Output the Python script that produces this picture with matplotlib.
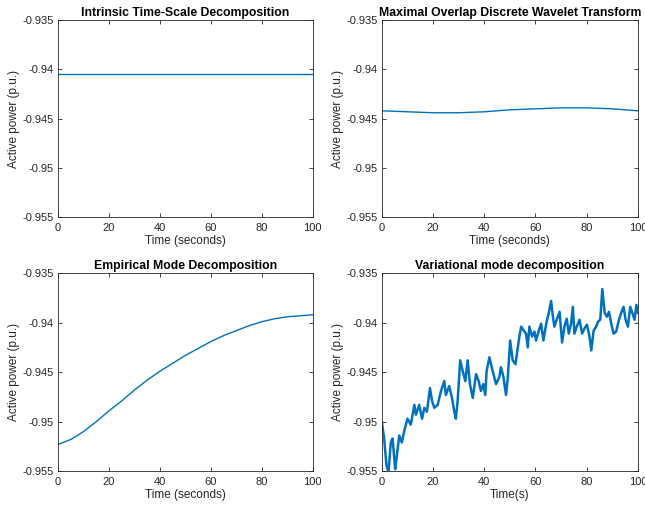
import matplotlib
matplotlib.use('Agg')
import matplotlib.pyplot as plt
import numpy as np

plt.rcParams['font.family'] = ['Liberation Sans', 'DejaVu Sans']

# ---- data ----
t_itd = [0, 100]
p_itd = [-0.9405, -0.9405]

t_modwt = [0, 10, 20, 30, 40, 50, 60, 70, 80, 90, 100]
p_modwt = [-0.9442, -0.9443, -0.9444, -0.9444, -0.9443, -0.9441, -0.9440,
           -0.9439, -0.9439, -0.9440, -0.9442]

t_emd = [0, 5, 10, 15, 20, 25, 30, 35, 40, 45, 50, 55, 60, 65, 70, 75, 80,
         85, 90, 95, 100]
p_emd = [-0.9523, -0.9518, -0.9510, -0.9500, -0.9489, -0.9479, -0.9468,
         -0.9458, -0.9449, -0.9441, -0.9433, -0.9426, -0.9419, -0.9413,
         -0.9408, -0.9403, -0.9399, -0.9396, -0.9394, -0.9393, -0.9392]

t_vmd = [0, 0.9, 1.8, 2.6, 3.5, 4.2, 5.2, 5.7, 6.8, 7.8, 8.7, 10.0, 11.3,
         12.7, 13.3, 14.6, 15.7, 16.6, 17.6, 18.8, 19.6, 20.5, 21.8, 23.1,
         24.4, 25.0, 26.3, 27.4, 28.3, 28.9, 29.6, 30.6, 31.6, 32.6, 33.5,
         34.4, 35.5, 36.8, 37.8, 38.7, 39.6, 40.4, 40.9, 42.0, 43.3, 44.6,
         45.9, 46.5, 47.5, 48.5, 49.2, 50.1, 51.1, 52.2, 53.1, 53.7, 54.4,
         55.4, 56.3, 57.0, 57.6, 58.7, 59.6, 60.2, 61.3, 62.2, 63.1, 64.2,
         65.2, 66.1, 66.8, 67.4, 68.3, 69.4, 70.4, 71.3, 72.2, 73.0, 73.9,
         74.6, 75.2, 76.1, 77.2, 78.2, 79.1, 80.1, 81.1, 81.8, 82.7, 83.7,
         84.4, 85.3, 86.1, 87.0, 87.9, 88.7, 89.6, 90.5, 91.5, 92.6, 93.5,
         94.4, 95.2, 96.1, 97.0, 97.8, 98.7, 99.4, 100]
p_vmd = [-0.9500, -0.9517, -0.9544, -0.9551, -0.9521, -0.9517, -0.9548,
         -0.9538, -0.9514, -0.9521, -0.9510, -0.9497, -0.9503, -0.9483,
         -0.9493, -0.9483, -0.9497, -0.9486, -0.9490, -0.9466, -0.9479,
         -0.9486, -0.9483, -0.9469, -0.9459, -0.9473, -0.9464, -0.9476,
         -0.9490, -0.9497, -0.9479, -0.9438, -0.9449, -0.9459, -0.9438,
         -0.9462, -0.9476, -0.9452, -0.9459, -0.9469, -0.9462, -0.9473,
         -0.9449, -0.9435, -0.9449, -0.9462, -0.9455, -0.9445, -0.9455,
         -0.9473, -0.9455, -0.9418, -0.9438, -0.9442, -0.9425, -0.9414,
         -0.9404, -0.9408, -0.9411, -0.9425, -0.9404, -0.9414, -0.9409,
         -0.9418, -0.9408, -0.9401, -0.9418, -0.9401, -0.9390, -0.9378,
         -0.9394, -0.9404, -0.9397, -0.9389, -0.9420, -0.9404, -0.9396,
         -0.9411, -0.9401, -0.9384, -0.9411, -0.9404, -0.9397, -0.9411,
         -0.9406, -0.9402, -0.9414, -0.9428, -0.9408, -0.9404, -0.9399,
         -0.9397, -0.9366, -0.9390, -0.9394, -0.9389, -0.9401, -0.9411,
         -0.9409, -0.9397, -0.9390, -0.9384, -0.9397, -0.9404, -0.9384,
         -0.9390, -0.9397, -0.9382, -0.9390]

titles = ['Intrinsic Time-Scale Decomposition',
          'Maximal Overlap Discrete Wavelet Transform',
          'Empirical Mode Decomposition',
          'Variational mode decomposition']
xlabels = ['Time (seconds)', 'Time (seconds)', 'Time (seconds)', 'Time(s)']
yticks = [-0.955, -0.95, -0.945, -0.94, -0.935]
ytick_labels = ['-0.955', '-0.95', '-0.945', '-0.94', '-0.935']
xticks = [0, 20, 40, 60, 80, 100]

series = [(t_itd, p_itd, 1.0), (t_modwt, p_modwt, 1.0),
          (t_emd, p_emd, 1.0), (t_vmd, p_vmd, 1.8)]

fig = plt.figure(figsize=(6.45, 5.05), dpi=100)
positions = [[0.090, 0.570, 0.395, 0.390], [0.592, 0.570, 0.397, 0.390],
             [0.090, 0.067, 0.395, 0.392], [0.592, 0.067, 0.397, 0.392]]
dark = '#262626'

for pos, (t, p, lw), title, xl in zip(positions, series, titles, xlabels):
    ax = fig.add_axes(pos)
    ax.plot(t, p, color='#0072BD', linewidth=lw)
    ax.set_xlim(0, 100)
    ax.set_ylim(-0.955, -0.935)
    ax.set_xticks(xticks)
    ax.set_yticks(yticks)
    ax.set_yticklabels(ytick_labels)
    ax.tick_params(direction='in', top=True, right=True, labelsize=8,
                   length=3, width=0.6, colors=dark)
    ax.tick_params(axis='x', pad=4.5)
    ax.tick_params(axis='y', pad=3)
    for s in ax.spines.values():
        s.set_linewidth(0.6)
        s.set_color(dark)
    ax.set_title(title, fontsize=8.8, fontweight='bold', pad=3, color='black')
    ax.set_xlabel(xl, fontsize=8.5, labelpad=1.5, color=dark)
    ax.set_ylabel('Active power (p.u.)', fontsize=8.5, labelpad=1.5, color=dark)

plt.savefig('out.png', dpi=100)
